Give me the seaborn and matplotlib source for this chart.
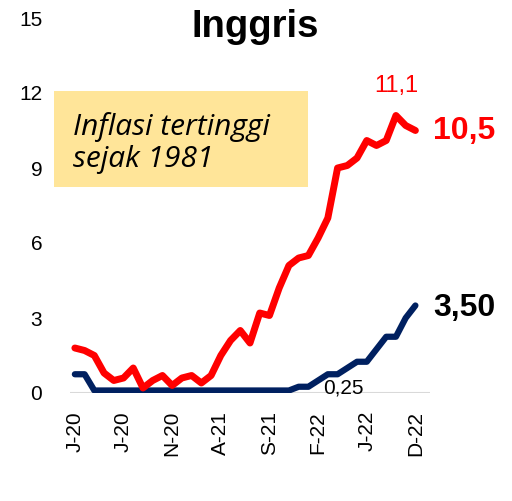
import numpy as np
import pandas as pd
import seaborn as sns
import matplotlib.pyplot as plt
from matplotlib.patches import Rectangle

# UK CPI inflation and Bank Rate, monthly Jan 2020 - Dec 2022
months = pd.date_range("2020-01-01", "2022-12-01", freq="MS")
cpi = [1.8, 1.7, 1.5, 0.8, 0.5, 0.6, 1.0, 0.2, 0.5, 0.7, 0.3, 0.6,
       0.7, 0.4, 0.7, 1.5, 2.1, 2.5, 2.0, 3.2, 3.1, 4.2, 5.1, 5.4,
       5.5, 6.2, 7.0, 9.0, 9.1, 9.4, 10.1, 9.9, 10.1, 11.1, 10.7, 10.5]
bank_rate = [0.75, 0.75, 0.1, 0.1, 0.1, 0.1, 0.1, 0.1, 0.1, 0.1, 0.1, 0.1,
             0.1, 0.1, 0.1, 0.1, 0.1, 0.1, 0.1, 0.1, 0.1, 0.1, 0.1, 0.25,
             0.25, 0.5, 0.75, 0.75, 1.0, 1.25, 1.25, 1.75, 2.25, 2.25, 3.0, 3.5]
tick_pos = [0, 5, 10, 15, 20, 25, 30, 35]
tick_labels = ["J-20", "J-20", "N-20", "A-21", "S-21", "F-22", "J-22", "D-22"]
y_ticks = [0, 3, 6, 9, 12, 15]

RED = "#FF0000"
NAVY = "#002060"

df = pd.DataFrame({"idx": np.arange(len(months)), "cpi": cpi, "rate": bank_rate})

sns.set_style("white")
plt.rcParams["font.family"] = ["Liberation Sans", "DejaVu Sans"]
plt.rcParams["text.color"] = "black"

fig = plt.figure(figsize=(5.12, 5.01), dpi=100)
ax = fig.add_axes([70 / 512, 1 - 393 / 501, 360 / 512, 375 / 501])

ax.axhline(0, color="#D9D9D9", lw=1.5, zorder=1)
sns.lineplot(data=df, x="idx", y="rate", color=NAVY, lw=4.5, ax=ax,
             solid_capstyle="round", solid_joinstyle="round", zorder=3)
sns.lineplot(data=df, x="idx", y="cpi", color=RED, lw=5, ax=ax,
             solid_capstyle="round", solid_joinstyle="round", zorder=4)

ax.set_xlim(-0.5, 36.5)
ax.set_ylim(0, 15)
ax.set_xticks(tick_pos)
ax.set_xticklabels(tick_labels, rotation=90)
ax.set_yticks(y_ticks)
ax.set_yticklabels([str(v) for v in y_ticks])
ax.tick_params(axis="both", length=0, labelsize=15, colors="black")
ax.tick_params(axis="y", pad=20)
ax.tick_params(axis="x", pad=13)
ax.set_xlabel("")
ax.set_ylabel("")
for s in ax.spines.values():
    s.set_visible(False)
ax.set_facecolor("none")

# annotations
i_peak = int(np.argmax(cpi))
ax.annotate("11,1", (i_peak, cpi[i_peak]), xytext=(0, 13), textcoords="offset points",
            ha="center", va="bottom", color=RED, fontsize=17)
ax.annotate("10,5", (len(cpi) - 1, cpi[-1]), xytext=(13, 0), textcoords="offset points",
            ha="left", va="center", color=RED, fontsize=23, fontweight="bold",
            annotation_clip=False)
ax.annotate("3,50", (len(bank_rate) - 1, bank_rate[-1]), xytext=(13, -2),
            textcoords="offset points", ha="left", va="center", color="black",
            fontsize=23, fontweight="bold", annotation_clip=False)
ax.annotate("0,25", (27.6, 0), xytext=(0, -3), textcoords="offset points",
            ha="center", va="bottom", color="black", fontsize=15, zorder=5)

fig.text(0.498, 1 - 37 / 501, "Inggris", ha="center", va="baseline",
         fontsize=27.5, fontweight="bold", color="black")

fig.patches.append(Rectangle((54 / 512, 1 - 187 / 501), 254 / 512, 96 / 501,
                             transform=fig.transFigure, facecolor="#FFE599",
                             edgecolor="none", zorder=0))
fig.text(73 / 512, 1 - 167 / 501, "Inflasi tertinggi\nsejak 1981", ha="left",
         va="baseline", fontsize=21.5, style="italic", family="Open Sans",
         linespacing=1.15, color="black")

fig.savefig("out.png", dpi=100)
